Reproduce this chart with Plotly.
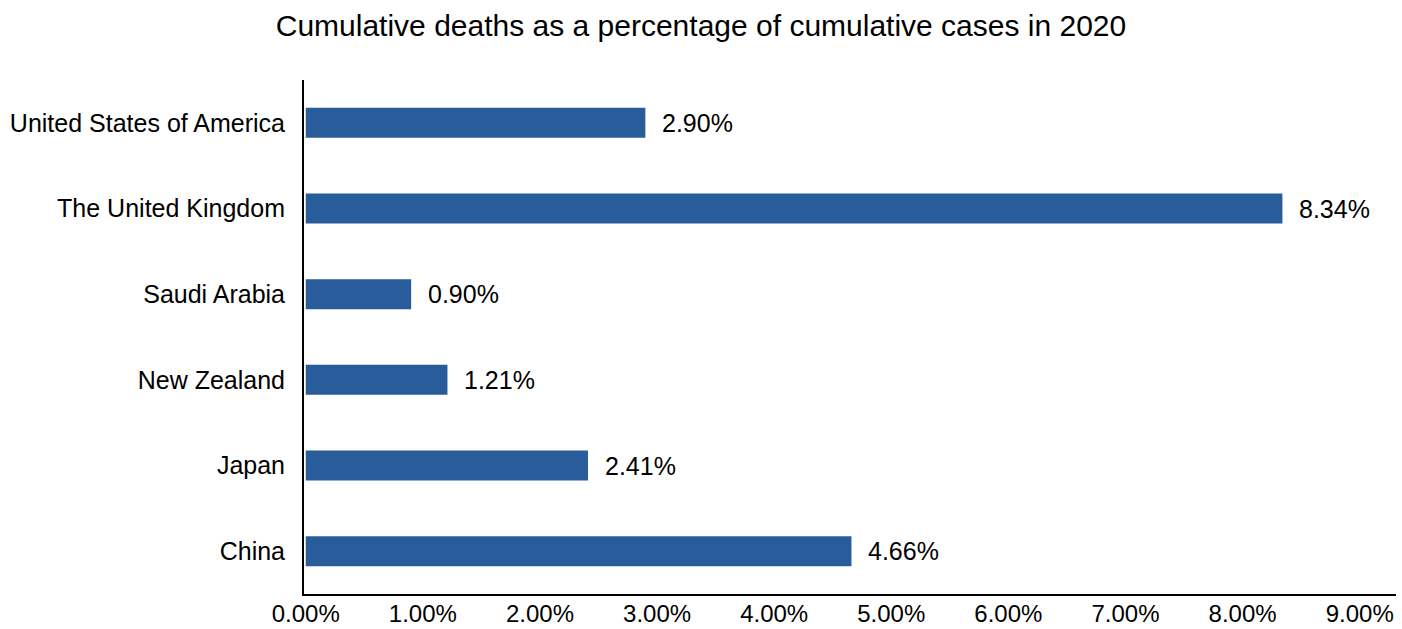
import plotly.graph_objects as go

# Cumulative deaths / cumulative cases (%), 2020
countries = ["United States of America", "The United Kingdom", "Saudi Arabia",
             "New Zealand", "Japan", "China"]
death_rate_pct = [2.90, 8.34, 0.90, 1.21, 2.41, 4.66]
x_ticks = [0, 1, 2, 3, 4, 5, 6, 7, 8, 9]
x_tick_labels = [f"{v:.2f}%" for v in x_ticks]

FONT = "Liberation Sans, Arial, Helvetica, sans-serif"
BAR_COLOR = "#285C9B"
LABEL_SIZE = 25

fig = go.Figure(
    go.Bar(
        x=death_rate_pct,
        y=countries,
        orientation="h",
        marker=dict(color=BAR_COLOR, line=dict(width=0)),
        hoverinfo="skip",
    )
)

# value labels to the right of each bar
for c, v in zip(countries, death_rate_pct):
    fig.add_annotation(
        x=v, y=c, text=f"{v:.2f}%", showarrow=False,
        xanchor="left", yanchor="middle", xshift=15,
        font=dict(family=FONT, size=LABEL_SIZE, color="#000000"),
    )

fig.update_layout(
    width=1402, height=629,
    paper_bgcolor="white", plot_bgcolor="white",
    margin=dict(l=304, r=6, t=80, b=35, autoexpand=False),
    bargap=0.65,
    showlegend=False,
    title=dict(
        text="Cumulative deaths as a percentage of cumulative cases in 2020",
        x=0.5, xanchor="center", xref="container",
        y=0.96, yref="container", yanchor="middle",
        font=dict(family=FONT, size=30, color="#000000"),
    ),
    xaxis=dict(
        range=[-0.015, 9.31],
        tickvals=x_ticks, ticktext=x_tick_labels,
        showgrid=False, zeroline=False,
        showline=True, linecolor="#000000", linewidth=2,
        ticks="", ticklabelstandoff=-3,
        tickfont=dict(family=FONT, size=24, color="#000000"),
        automargin=False,
        fixedrange=True,
    ),
    yaxis=dict(
        categoryorder="array", categoryarray=countries[::-1],
        showgrid=False, zeroline=False,
        showline=True, linecolor="#000000", linewidth=2,
        ticks="", ticklabelstandoff=12,
        tickfont=dict(family=FONT, size=LABEL_SIZE, color="#000000"),
        automargin=False,
        fixedrange=True,
    ),
)

fig.write_html("out.html")
